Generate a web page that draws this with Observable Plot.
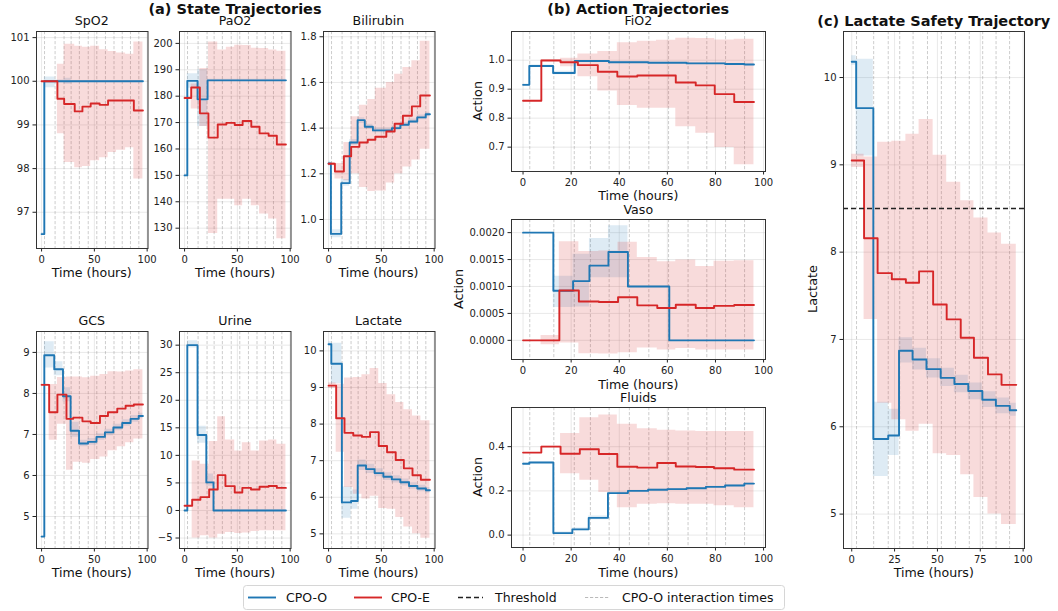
<!DOCTYPE html>
<html><head><meta charset="utf-8">
<script src="https://cdn.jsdelivr.net/npm/d3@7"></script>
<script src="https://cdn.jsdelivr.net/npm/@observablehq/plot@0.6"></script>
<style>
body{margin:0;background:#fff;font-family:"DejaVu Sans",sans-serif;}
#root{position:relative;width:1058px;height:611px;overflow:hidden;background:#fff;}
.p{position:absolute;}
.t{position:absolute;white-space:nowrap;transform:translate(-50%,-50%);color:#111;line-height:1;}
</style></head><body><div id="root"></div>
<script>
// ---------------- DATA ----------------
const T_END = 96;
const X_DOMAIN = [-4.8, 100.8];
const INTERACTION_TIMES = [2.8, 12.8, 21.3, 28.0, 35.8, 44.2, 52.3, 60.5, 68.6, 76.4, 84.2, 92.1];
const THRESHOLD = 8.5;

const XTICKS_A = [0, 50, 100];
const XTICKS_B = [0, 20, 40, 60, 80, 100];
const XTICKS_C = [0, 25, 50, 75, 100];

const YTICKS_SPO2 = [97, 98, 99, 100, 101];
const YTICKS_PAO2 = [130, 140, 150, 160, 170, 180, 190, 200];
const YTICKS_BILI = [1.0, 1.2, 1.4, 1.6, 1.8];
const YTICKS_GCS = [5, 6, 7, 8, 9];
const YTICKS_URINE = [-5, 0, 5, 10, 15, 20, 25, 30];
const YTICKS_LACT = [5, 6, 7, 8, 9, 10];
const YTICKS_FIO2 = [0.7, 0.8, 0.9, 1.0];
const YTICKS_VASO = [0, 0.0005, 0.001, 0.0015, 0.002];
const YTICKS_FLUIDS = [0, 0.2, 0.4];

// rows: [time (segment start), mean, band low, band high]
const spo2_O = [[0,96.5,96.47,96.53],[2.6,100.0,99.85,100.1],[12.8,100.0,99.97,100.03],[21.3,100.0,99.93,100.07],[28,100.0,99.98,100.02]];
const spo2_E = [[0,100.0,99.98,100.02],[15,99.6,98.8,100.39],[21.4,99.48,98.14,100.85],[31.4,99.31,98.02,100.8],[38.7,99.42,98.05,100.78],[46.5,99.49,98.18,100.8],[55,99.46,98.25,100.72],[63,99.56,98.37,100.68],[71,99.56,98.42,100.65],[79.6,99.56,98.48,100.62],[87.4,99.33,97.76,100.9]];

const pao2_O = [[0,150,149.5,150.5],[2.6,185.8,183,188.5],[12.3,178.8,168.5,190],[21.8,186.0,185.6,186.4]];
const pao2_E = [[0,179.3,178.8,179.8],[6.3,183.3,175.1,184.6],[14.5,173.5,168.5,190.5],[22.6,164.3,128,200.5],[31.4,169.3,141,197.5],[39.6,169.9,141,198.5],[47.5,169.1,138.5,199.3],[55,170.6,141,199.2],[63.2,168.4,138.5,198.2],[71,165.9,135.4,198.1],[79.6,165.0,133.5,197.5],[87.4,161.7,126,197.0]];

const bili_O = [[0,1.245,1.235,1.255],[2.2,0.937,0.92,0.955],[12,1.159,1.145,1.175],[20,1.337,1.325,1.35],[27.5,1.435,1.42,1.445],[34.3,1.406,1.395,1.417],[42,1.39,1.38,1.40],[60,1.40,1.39,1.41],[68,1.415,1.405,1.425],[76,1.429,1.42,1.44],[84,1.447,1.437,1.457],[92,1.461,1.45,1.47]];
const bili_E = [[0,1.244,1.235,1.25],[6,1.21,1.177,1.245],[14.5,1.277,1.17,1.337],[21.4,1.318,1.2,1.45],[29.2,1.337,1.14,1.50],[37.1,1.349,1.123,1.525],[44.3,1.362,1.125,1.575],[54.7,1.385,1.16,1.60],[62.6,1.419,1.20,1.636],[70.4,1.454,1.23,1.665],[78.9,1.495,1.26,1.695],[86.8,1.543,1.308,1.78]];

const gcs_O = [[0,4.51,4.49,4.53],[2.6,8.93,8.62,9.26],[12,8.59,8.43,8.77],[20.3,7.93,7.8,8.14],[27.5,7.09,6.93,7.3],[35.5,6.78,6.7,6.86],[44,6.82,6.74,6.9],[52,6.94,6.86,7.02],[60,7.05,6.97,7.13],[68,7.17,7.09,7.25],[76.4,7.28,7.2,7.36],[84.3,7.38,7.3,7.46],[92,7.45,7.38,7.52]];
const gcs_E = [[0,8.21,8.19,8.23],[7.2,7.54,6.86,8.22],[15,7.97,7.25,8.39],[23.6,7.38,6.13,8.4],[30,7.41,6.32,8.4],[38.7,7.32,6.3,8.38],[46.5,7.28,6.39,8.42],[55.3,7.45,6.45,8.46],[62.9,7.54,6.6,8.53],[71.7,7.63,6.7,8.52],[79.6,7.7,6.8,8.55],[87.4,7.73,6.89,8.58]];

const urine_O = [[0,0,-0.1,0.1],[2.6,30.0,29.5,30.8],[12.3,13.7,12.2,15.3],[20.6,5.1,4.4,6.6],[27.4,0,-0.1,0.1]];
const urine_E = [[0,0.85,0.8,0.9],[7.2,1.94,-5.0,9.0],[15,2.42,-4.6,8.4],[23.3,3.8,-5.0,12.5],[31.4,6.41,-4.3,17.0],[38.7,4.42,-4.0,12.8],[47.5,3.27,-4.2,10.8],[54.7,4.11,-4.1,12.3],[62.9,3.81,-3.8,10.8],[71,4.3,-3.7,12.6],[79.6,4.45,-3.7,12.8],[87.4,4.1,-3.7,12.0]];

const lact_O = [[0,10.18,10.14,10.25],[2.6,9.65,9.1,10.21],[12.6,5.86,5.43,6.28],[21.3,5.9,5.67,6.2],[27.6,6.87,6.73,7.02],[35.5,6.77,6.65,6.9],[43.6,6.66,6.56,6.78],[51.9,6.56,6.46,6.67],[59.9,6.49,6.39,6.59],[68,6.41,6.31,6.5],[76.2,6.31,6.22,6.4],[84.1,6.24,6.15,6.33],[92.2,6.19,6.12,6.27]];
const lact_E = [[0,9.05,8.97,9.12],[7.2,8.16,7.23,9.09],[15.1,7.76,6.27,9.26],[23.4,7.69,6.08,9.27],[31.6,7.65,5.95,9.35],[39.3,7.78,6.03,9.52],[47.5,7.4,5.69,9.11],[55.4,7.23,5.67,8.8],[63.6,7.02,5.45,8.59],[71.3,6.79,5.19,8.39],[79.5,6.6,5.0,8.22],[87.4,6.48,4.88,8.09]];

const fio2_O = [[0,0.915,0.912,0.918],[2.6,0.98,0.977,0.983],[12.5,0.956,0.95,0.962],[21.5,0.997,0.995,0.999],[35.7,0.993,0.991,0.995],[52,0.991,0.989,0.993],[68,0.989,0.987,0.991],[84,0.987,0.985,0.989],[92,0.985,0.983,0.987]];
const fio2_E = [[0,0.86,0.86,0.86],[7.6,0.999,0.996,1.002],[15.6,0.993,0.977,1.007],[22.8,0.983,0.943,1.021],[31.1,0.96,0.894,1.03],[39.2,0.944,0.844,1.06],[47.5,0.947,0.834,1.065],[55.5,0.947,0.834,1.069],[63.5,0.923,0.77,1.076],[71.8,0.913,0.748,1.075],[79.7,0.883,0.699,1.07],[87.8,0.856,0.639,1.072]];

const vaso_O = [[0,0.002,0.002,0.002],[12.6,0.00092,0.00061,0.00119],[20.8,0.0011,0.00062,0.0016],[27.6,0.001387,0.00116,0.00189],[35.5,0.00164,0.00116,0.00213],[43.6,0.001,0.00099,0.00101],[60.8,0,0,0]];
const vaso_E = [[0,0,0,0],[7.5,0,-0.00008,0.00009],[15.1,0.000925,-0.00005,0.00183],[23.2,0.00072,-0.00025,0.00165],[31.5,0.000712,-0.000256,0.00166],[39.5,0.0008,-0.00023,0.00182],[47.5,0.00065,-0.000144,0.00154],[55.8,0.0006,-0.00018,0.00146],[63.5,0.00066,-0.00015,0.00149],[71.8,0.0006,-0.00018,0.00137],[79.4,0.00064,-0.00018,0.00147],[87.8,0.000656,-0.00018,0.00148]];

const fluids_O = [[0,0.323,0.32,0.326],[2.6,0.328,0.325,0.331],[12.6,0.009,0.004,0.014],[20.5,0.026,0.02,0.032],[27.3,0.078,0.07,0.086],[35.3,0.19,0.185,0.195],[43.6,0.2,0.197,0.203],[52,0.205,0.202,0.208],[60,0.208,0.205,0.211],[68,0.212,0.209,0.215],[76,0.218,0.215,0.221],[84,0.224,0.221,0.227],[92,0.233,0.23,0.236]];
const fluids_E = [[0,0.373,0.373,0.373],[7.6,0.40,0.397,0.403],[15.6,0.368,0.278,0.459],[23.6,0.388,0.248,0.531],[31.5,0.367,0.193,0.543],[39.2,0.309,0.124,0.501],[47.5,0.305,0.139,0.481],[55.8,0.326,0.142,0.474],[63.5,0.31,0.139,0.471],[71.8,0.308,0.139,0.468],[79.4,0.302,0.133,0.468],[87.8,0.296,0.124,0.468]];

// ---------------- STYLE / LAYOUT ----------------
const BLUE = "#1f77b4", RED = "#d62728";
const root = document.getElementById("root");
const fmtPlain = d => (d < 0 ? "\u2212" : "") + Math.abs(d);
const fmt1 = d => d.toFixed(1);
const fmt4 = d => d.toFixed(4);

function addText(txt, x, y, opts = {}) {
  const d = document.createElement("div");
  d.className = "t";
  d.textContent = txt;
  d.style.left = x + "px";
  d.style.top = y + "px";
  d.style.fontSize = (opts.size || 12.8) + "px";
  if (opts.bold) d.style.fontWeight = "bold";
  if (opts.rotate) d.style.transform = "translate(-50%,-50%) rotate(-90deg)";
  root.appendChild(d);
}

function rows(arr) {
  const out = arr.map(([t, v, lo, hi]) => ({t, v, lo, hi}));
  const last = out[out.length - 1];
  out.push({...last, t: T_END});
  return out;
}

function drawPanel(p) {
  const ML = 50, MR = 8, MT = 6, MB = 28;
  const O = rows(p.O), E = rows(p.E);
  const marks = [
    Plot.gridX(p.xticks, {stroke: "#b0b0b0", strokeOpacity: 0.35, strokeWidth: 0.8}),
    Plot.gridY(p.yticks, {stroke: "#b0b0b0", strokeOpacity: 0.35, strokeWidth: 0.8}),
    Plot.ruleX(INTERACTION_TIMES, {stroke: "#8c8c8c", strokeOpacity: 0.55, strokeWidth: 0.8, strokeDasharray: "3.2,1.8"}),
    Plot.areaY(O, {x: "t", y1: "lo", y2: "hi", curve: "step-after", fill: BLUE, fillOpacity: 0.15}),
    Plot.areaY(E, {x: "t", y1: "lo", y2: "hi", curve: "step-after", fill: RED, fillOpacity: 0.17}),
    Plot.line(O, {x: "t", y: "v", curve: "step-after", stroke: BLUE, strokeWidth: 1.9}),
    Plot.line(E, {x: "t", y: "v", curve: "step-after", stroke: RED, strokeWidth: 1.9})
  ];
  if (p.threshold != null) marks.push(Plot.ruleY([p.threshold], {stroke: "#222", strokeWidth: 1.5, strokeDasharray: "5,3"}));
  marks.push(Plot.axisX(p.xticks, {tickSize: 3.5, tickPadding: 3.5, fontSize: 10, label: null}));
  marks.push(Plot.axisY(p.yticks, {tickSize: 3.5, tickPadding: 3.5, fontSize: 10, label: null, tickFormat: p.fmt}));
  marks.push(Plot.frame({stroke: "#333", strokeWidth: 1}));
  const svg = Plot.plot({
    width: p.w + ML + MR, height: p.h + MT + MB,
    marginLeft: ML, marginRight: MR, marginTop: MT, marginBottom: MB,
    x: {domain: X_DOMAIN},
    y: {domain: p.ydomain},
    style: {fontFamily: "DejaVu Sans, sans-serif", color: "#222", background: "transparent", overflow: "visible"},
    marks
  });
  const wrap = document.createElement("div");
  wrap.className = "p";
  wrap.style.left = (p.left - ML) + "px";
  wrap.style.top = (p.top - MT) + "px";
  wrap.appendChild(svg);
  root.appendChild(wrap);
  if (p.title) addText(p.title, p.left + p.w / 2, p.top - (p.titleBold ? 10 : 9.3), {size: p.titleBold ? 14.5 : 12.6, bold: p.titleBold});
  addText("Time (hours)", p.left + p.w / 2, p.top + p.h + 25.5, {size: 12.6});
  if (p.ylabel) addText(p.ylabel, p.ylabelX, p.top + p.h / 2, {size: 12.8, rotate: true});
}

const AW = 111.5, AH = 217;
const panels = [
  {title: "SpO2", left: 36, top: 30.7, w: AW, h: AH, xticks: XTICKS_A, yticks: YTICKS_SPO2, ydomain: [96.17, 101.14], fmt: fmtPlain, O: spo2_O, E: spo2_E},
  {title: "PaO2", left: 179.3, top: 30.7, w: AW, h: AH, xticks: XTICKS_A, yticks: YTICKS_PAO2, ydomain: [122.3, 204.5], fmt: fmtPlain, O: pao2_O, E: pao2_E},
  {title: "Bilirubin", left: 322.7, top: 30.7, w: AW, h: AH, xticks: XTICKS_A, yticks: YTICKS_BILI, ydomain: [0.873, 1.823], fmt: fmt1, O: bili_O, E: bili_E},
  {title: "GCS", left: 36, top: 330.7, w: AW, h: AH, xticks: XTICKS_A, yticks: YTICKS_GCS, ydomain: [4.22, 9.51], fmt: fmtPlain, O: gcs_O, E: gcs_E},
  {title: "Urine", left: 179.3, top: 330.7, w: AW, h: AH, xticks: XTICKS_A, yticks: YTICKS_URINE, ydomain: [-6.9, 32.48], fmt: fmtPlain, O: urine_O, E: urine_E},
  {title: "Lactate", left: 322.7, top: 330.7, w: AW, h: AH, xticks: XTICKS_A, yticks: YTICKS_LACT, ydomain: [4.6, 10.53], fmt: fmtPlain, O: lact_O, E: lact_E},
  {title: "FiO2", left: 511.3, top: 30.7, w: 254, h: 140, xticks: XTICKS_B, yticks: YTICKS_FIO2, ydomain: [0.616, 1.099], fmt: fmt1, O: fio2_O, E: fio2_E, ylabel: "Action", ylabelX: 478.3},
  {title: "Vaso", left: 511.3, top: 219, w: 254, h: 140, xticks: XTICKS_B, yticks: YTICKS_VASO, ydomain: [-0.000356, 0.002244], fmt: fmt4, O: vaso_O, E: vaso_E, ylabel: "Action", ylabelX: 459},
  {title: "Fluids", left: 511.3, top: 407.3, w: 254, h: 140, xticks: XTICKS_B, yticks: YTICKS_FLUIDS, ydomain: [-0.056, 0.577], fmt: fmt1, O: fluids_O, E: fluids_E, ylabel: "Action", ylabelX: 478.3},
  {title: "(c) Lactate Safety Trajectory", titleBold: true, left: 843.3, top: 30.7, w: 181, h: 517, xticks: XTICKS_C, yticks: YTICKS_LACT, ydomain: [4.606, 10.527], fmt: fmtPlain, O: lact_O, E: lact_E, threshold: THRESHOLD, ylabel: "Lactate", ylabelX: 813}
];
panels.forEach(drawPanel);

addText("(a) State Trajectories", 235, 9, {size: 14.5, bold: true});
addText("(b) Action Trajectories", 638.3, 9, {size: 14.5, bold: true});

// ---------------- LEGEND ----------------
const LEGEND_ITEMS = [
  {label: "CPO-O", stroke: BLUE, width: 1.9, dash: null, x0: 5, x1: 33, tx: 43},
  {label: "CPO-E", stroke: RED, width: 1.9, dash: null, x0: 111, x1: 139, tx: 148},
  {label: "Threshold", stroke: "#222", width: 1.5, dash: "5,3", x0: 215, x1: 240, tx: 252},
  {label: "CPO-O interaction times", stroke: "#a8a8a8", width: 0.8, dash: "3.2,1.8", x0: 342, x1: 367, tx: 379}
];
const leg = d3.create("svg").attr("width", 542).attr("height", 25)
  .style("position", "absolute").style("left", "243px").style("top", "585px").style("overflow", "visible");
leg.append("rect").attr("x", 0.5).attr("y", 0.5).attr("width", 541).attr("height", 24).attr("rx", 3)
  .attr("fill", "#fff").attr("stroke", "#d6d6d6");
for (const it of LEGEND_ITEMS) {
  leg.append("line").attr("x1", it.x0).attr("x2", it.x1).attr("y1", 12.5).attr("y2", 12.5)
    .attr("stroke", it.stroke).attr("stroke-width", it.width).attr("stroke-dasharray", it.dash);
  leg.append("text").attr("x", it.tx).attr("y", 12.5).attr("dy", "0.35em")
    .attr("font-family", "DejaVu Sans, sans-serif").attr("font-size", 12.5).attr("fill", "#111").text(it.label);
}
root.appendChild(leg.node());
</script></body></html>
